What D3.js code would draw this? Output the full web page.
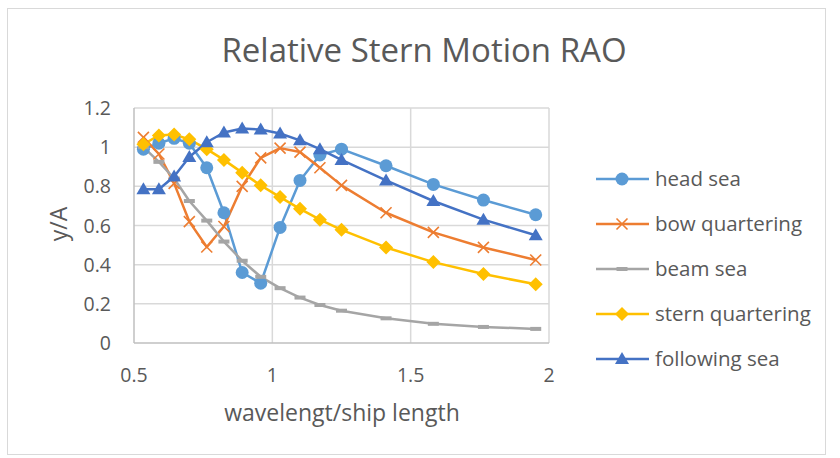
<!DOCTYPE html>
<html>
<head>
  <meta charset="utf-8" />
  <title>Relative Stern Motion RAO</title>
  <style>
    body { margin: 0; background: #fff; }
    svg text { font-family: "Open Sans", "Noto Sans", sans-serif; fill: #595959; }
  </style>
  <script src="https://cdnjs.cloudflare.com/ajax/libs/d3/7.8.5/d3.min.js"></script>
</head>
<body>
  <div id="chart"></div>
  <script>
    // wavelength / ship length
    var xVals = [0.534, 0.59, 0.645, 0.70, 0.763, 0.825, 0.891, 0.958, 1.028, 1.10, 1.172, 1.25, 1.411, 1.582, 1.763, 1.952];

    var headSea = [0.99, 1.02, 1.045, 1.02, 0.895, 0.665, 0.36, 0.305, 0.59, 0.83, 0.96, 0.99, 0.905, 0.81, 0.73, 0.655];
    var bowQuartering = [1.05, 0.965, 0.815, 0.62, 0.49, 0.595, 0.80, 0.945, 0.995, 0.975, 0.895, 0.805, 0.665, 0.565, 0.488, 0.424];
    var beamSea = [1.0, 0.925, 0.84, 0.725, 0.625, 0.518, 0.42, 0.338, 0.28, 0.232, 0.194, 0.165, 0.126, 0.098, 0.082, 0.072];
    var sternQuartering = [1.015, 1.06, 1.065, 1.04, 0.99, 0.935, 0.87, 0.805, 0.745, 0.685, 0.63, 0.578, 0.488, 0.413, 0.352, 0.30];
    var followingSea = [0.785, 0.785, 0.85, 0.95, 1.025, 1.075, 1.095, 1.09, 1.07, 1.035, 0.99, 0.935, 0.83, 0.725, 0.63, 0.55];

    var seriesNames = ["head sea", "bow quartering", "beam sea", "stern quartering", "following sea"];
    var seriesData = [headSea, bowQuartering, beamSea, sternQuartering, followingSea];
    var colors = ["#5B9BD5", "#ED7D31", "#A5A5A5", "#FFC000", "#4472C4"];
    var markers = ["circle", "x", "dash", "diamond", "triangle"];

    var xTicks = [0.5, 1, 1.5, 2];
    var yTicks = [0, 0.2, 0.4, 0.6, 0.8, 1, 1.2];

    var W = 840, H = 458;
    var svg = d3.select("#chart").append("svg")
      .attr("width", W)
      .attr("height", H);

    // chart frame
    svg.append("rect")
      .attr("x", 7.5).attr("y", 8.5)
      .attr("width", 818).attr("height", 446)
      .attr("fill", "#fff")
      .attr("stroke", "#D9D9D9");

    var x = d3.scaleLinear().domain([0.5, 2]).range([134, 549]);
    var y = d3.scaleLinear().domain([0, 1.2]).range([343, 108]);

    // gridlines
    svg.append("g").selectAll("line.h")
      .data(yTicks.slice(1))
      .enter().append("line")
      .attr("x1", x(0.5)).attr("x2", x(2))
      .attr("y1", d => y(d)).attr("y2", d => y(d))
      .attr("stroke", "#D9D9D9").attr("stroke-width", 1.5);

    svg.append("g").selectAll("line.v")
      .data(xTicks.slice(1))
      .enter().append("line")
      .attr("x1", d => x(d)).attr("x2", d => x(d))
      .attr("y1", y(0)).attr("y2", y(1.2))
      .attr("stroke", "#D9D9D9").attr("stroke-width", 1.5);

    // axis lines
    svg.append("line")
      .attr("x1", x(0.5)).attr("x2", x(2)).attr("y1", y(0)).attr("y2", y(0))
      .attr("stroke", "#BFBFBF").attr("stroke-width", 1.5);
    svg.append("line")
      .attr("x1", x(0.5)).attr("x2", x(0.5)).attr("y1", y(0)).attr("y2", y(1.2))
      .attr("stroke", "#BFBFBF").attr("stroke-width", 1.5);

    // tick labels
    svg.append("g").selectAll("text")
      .data(yTicks)
      .enter().append("text")
      .attr("x", 111).attr("y", d => y(d))
      .attr("dy", "0.36em")
      .attr("text-anchor", "end")
      .attr("font-size", 19.5)
      .text(d => d);

    svg.append("g").selectAll("text")
      .data(xTicks)
      .enter().append("text")
      .attr("x", d => x(d)).attr("y", 382)
      .attr("text-anchor", "middle")
      .attr("font-size", 19.5)
      .text(d => d);

    // titles
    svg.append("text")
      .attr("x", 424).attr("y", 62)
      .attr("text-anchor", "middle")
      .attr("font-size", 33)
      .text("Relative Stern Motion RAO");

    svg.append("text")
      .attr("x", 342).attr("y", 421)
      .attr("text-anchor", "middle")
      .attr("font-size", 23)
      .text("wavelengt/ship length");

    svg.append("text")
      .attr("transform", "translate(67,224) rotate(-90)")
      .attr("text-anchor", "middle")
      .attr("font-size", 23)
      .text("y/A");

    function drawMarker(g, type, color) {
      if (type === "circle") {
        g.append("circle").attr("r", 6.5).attr("fill", color);
      } else if (type === "x") {
        g.append("path").attr("d", "M-5.5,-5.5L5.5,5.5M-5.5,5.5L5.5,-5.5")
          .attr("stroke", color).attr("stroke-width", 1.6).attr("fill", "none");
      } else if (type === "dash") {
        g.append("rect").attr("x", -5.5).attr("y", -2).attr("width", 11).attr("height", 4).attr("fill", color);
      } else if (type === "diamond") {
        g.append("path").attr("d", "M0,-7L7,0L0,7L-7,0Z").attr("fill", color);
      } else if (type === "triangle") {
        g.append("path").attr("d", "M0,-7L7,5L-7,5Z").attr("fill", color);
      }
    }

    var line = d3.line()
      .x((d, i) => x(xVals[i]))
      .y(d => y(d));

    seriesData.forEach(function (vals, s) {
      svg.append("path")
        .datum(vals)
        .attr("d", line)
        .attr("fill", "none")
        .attr("stroke", colors[s])
        .attr("stroke-width", 2.5)
        .attr("stroke-linejoin", "round");
    });

    seriesData.forEach(function (vals, s) {
      vals.forEach(function (v, i) {
        var g = svg.append("g").attr("transform", "translate(" + x(xVals[i]) + "," + y(v) + ")");
        drawMarker(g, markers[s], colors[s]);
      });
    });

    // legend
    var legend = svg.append("g");
    seriesNames.forEach(function (name, s) {
      var ly = 179 + s * 45;
      legend.append("line")
        .attr("x1", 596).attr("x2", 649).attr("y1", ly).attr("y2", ly)
        .attr("stroke", colors[s]).attr("stroke-width", 2.5);
      var g = legend.append("g").attr("transform", "translate(622," + ly + ")");
      drawMarker(g, markers[s], colors[s]);
      legend.append("text")
        .attr("x", 655).attr("y", ly)
        .attr("dy", "0.36em")
        .attr("font-size", 20.5)
        .text(name);
    });
  </script>
</body>
</html>
